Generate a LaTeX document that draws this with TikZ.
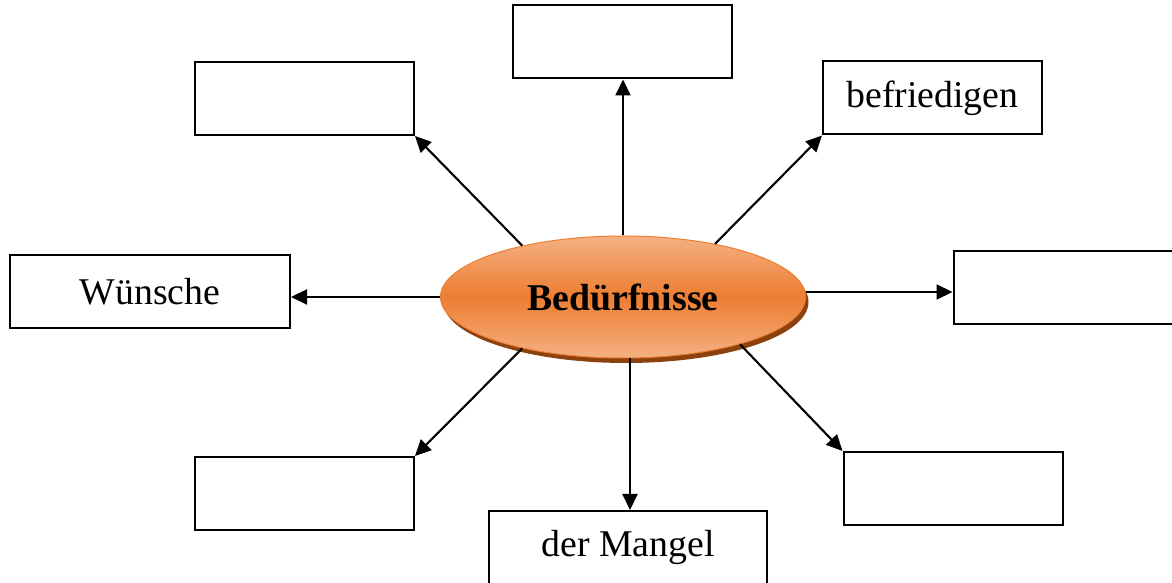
\documentclass[tikz,border=0pt]{standalone}
\usepackage{fontspec}
\setmainfont{Liberation Serif}
\usetikzlibrary{arrows.meta,shapes.geometric,shadows}

\definecolor{orangemid}{RGB}{237,125,49}
\definecolor{orangelight}{RGB}{244,177,131}
\definecolor{orangedark}{RGB}{140,66,14}

\begin{document}
\begin{tikzpicture}[x=0.2mm,y=-0.2mm,
  box/.style={draw,line width=0.4mm,minimum width=43.8mm,minimum height=14.6mm,inner sep=0pt,
    font=\fontsize{21.5}{26}\selectfont},
  arr/.style={line width=0.42mm,-{Triangle[length=3.2mm,width=3mm]}}]
\useasboundingbox (0,0) rectangle (1172,583);

\node[ellipse,minimum width=73mm,minimum height=24.4mm,inner sep=0pt,
  draw=orangemid,line width=0.2mm,
  top color=orangelight,bottom color=orangelight,middle color=orangemid,
  drop shadow={shadow xshift=0.6mm,shadow yshift=-1mm,fill=orangedark,opacity=1},
  font=\fontsize{21.5}{26}\selectfont\bfseries] (bed) at (623,297) {Bedürfnisse};

\node[box] (tb) at (622,42) {};
\node[box] (tl) at (304.5,98.5) {};
\node[box] (tr) at (932.5,98) {befriedigen};
\node[box,minimum width=56mm] (lb) at (150,291.5) {Wünsche};
\node[box] (rb) at (1063,287.5) {};
\node[box] (bl) at (304.5,493.5) {};
\node[box] (br) at (953,488.5) {};
\node[box,minimum width=55.6mm] (mb) at (628,547.5) {der Mangel};

\draw[arr] (bed.north) -- (bed.north |- tb.south);
\draw[arr] (bed.153) -- (tl.south east);
\draw[arr] (bed.30) -- (tr.south west);
\draw[arr] (bed.west) -- (bed.west -| lb.east);
\draw[arr] ([yshift=1mm]bed.east) -- ([yshift=1mm]bed.east -| rb.west);
\draw[arr] (bed.207) -- (bl.north east);
\draw[arr] ([xshift=1.4mm]bed.south) -- ([xshift=1.4mm]bed.south |- mb.north);
\draw[arr] (bed.-22) -- (br.north west);
\end{tikzpicture}
\end{document}
